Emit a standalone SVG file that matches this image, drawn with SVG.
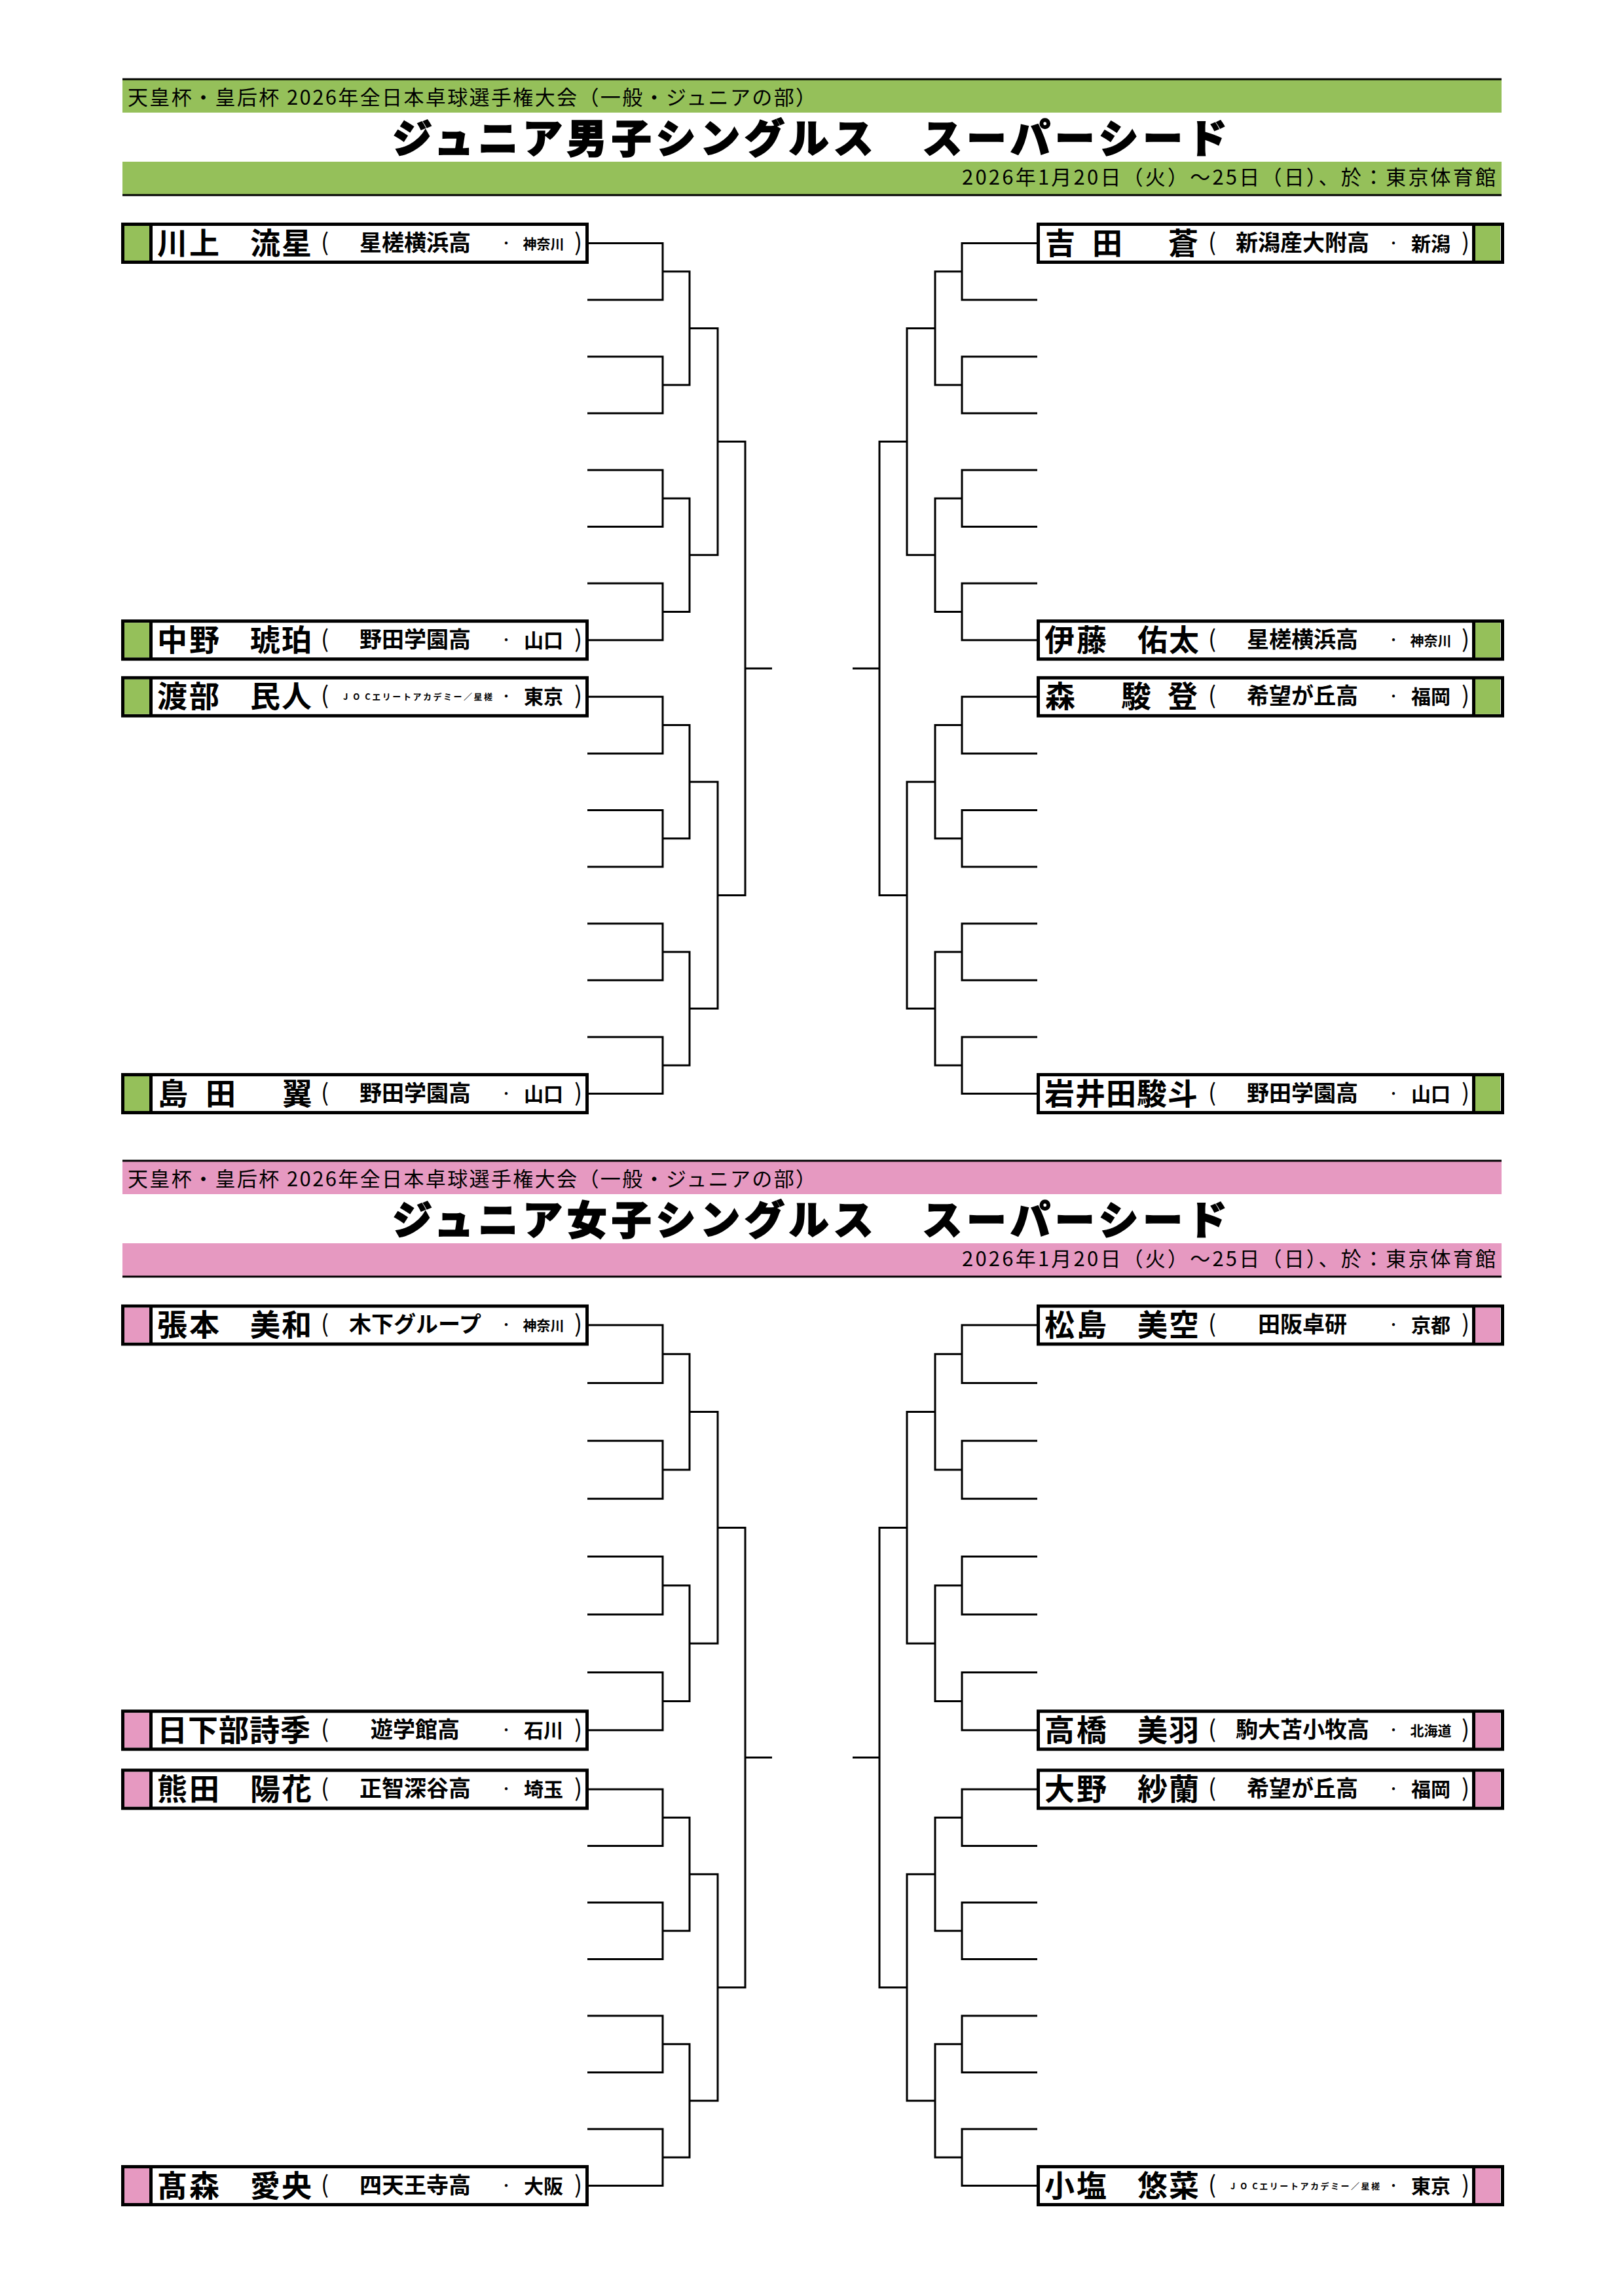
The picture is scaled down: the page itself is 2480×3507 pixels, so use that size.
<svg xmlns="http://www.w3.org/2000/svg" width="2480" height="3507" viewBox="0 0 2480 3507">
<style>
text{font-family:"Noto Sans CJK JP","Noto Sans CJK SC",sans-serif;fill:#000}
.bx{fill:#fff;stroke:#000;stroke-width:5}
.dv{stroke:#000;stroke-width:5}
.gm{fill:#95C05A}
.pk{fill:#E699C1}
.hl{stroke:#000;stroke-width:3}
.cn{fill:none;stroke:#000;stroke-width:3}
.h1{font-size:31px;font-weight:400}
.tt{font-size:61px;font-weight:900;stroke:#000;stroke-width:1.6}
.nm{font-size:46px;font-weight:700}
.sc{font-size:34px;font-weight:700;text-anchor:middle}
.jc{font-size:13px;font-weight:700;text-anchor:middle}
.dt{font-size:20px;font-weight:400;text-anchor:middle}
.p2{font-size:30px;font-weight:700;text-anchor:middle}
.p3{font-size:21px;font-weight:700;text-anchor:middle}
.pr{font-size:36px;font-weight:400;text-anchor:middle}
</style>
<rect width="2480" height="3507" fill="#fff"/>

<g id="men-header">
<rect class="gm" x="187" y="121" width="2106" height="51"/>
<rect class="gm" x="187" y="247" width="2106" height="51"/>
<line class="hl" x1="187" y1="121" x2="2293" y2="121"/>
<line class="hl" x1="187" y1="298" x2="2293" y2="298"/>
<text class="h1" x="195" y="160" textLength="1051">天皇杯・皇后杯 2026年全日本卓球選手権大会（一般・ジュニアの部）</text>
<text class="tt" x="599" y="234" textLength="1275">ジュニア男子シングルス　スーパーシード</text>
<text class="h1" x="2284" y="282" text-anchor="end" textLength="815">2026年1月20日（火）～25日（日）、於：東京体育館</text>
</g>

<g id="women-header">
<rect class="pk" x="187" y="1773" width="2106" height="51"/>
<rect class="pk" x="187" y="1899" width="2106" height="51"/>
<line class="hl" x1="187" y1="1773" x2="2293" y2="1773"/>
<line class="hl" x1="187" y1="1950" x2="2293" y2="1950"/>
<text class="h1" x="195" y="1812" textLength="1051">天皇杯・皇后杯 2026年全日本卓球選手権大会（一般・ジュニアの部）</text>
<text class="tt" x="599" y="1886" textLength="1275">ジュニア女子シングルス　スーパーシード</text>
<text class="h1" x="2284" y="1934" text-anchor="end" textLength="815">2026年1月20日（火）～25日（日）、於：東京体育館</text>
</g>

<g id="connectors">
<path class="cn" d="M897 371.5H1012V458.1H897M897 544.7H1012V631.3H897M897 717.9H1012V804.5H897M897 891.1H1012V977.7H897M897 1064.3H1012V1150.9H897M897 1237.5H1012V1324.1H897M897 1410.7H1012V1497.3H897M897 1583.9H1012V1670.5H897"/>
<path class="cn" d="M1012 414.8H1053V588H1012M1012 761.2H1053V934.4H1012M1012 1107.6H1053V1280.8H1012M1012 1454H1053V1627.2H1012"/>
<path class="cn" d="M1053 501.4H1096V847.8H1053M1053 1194.2H1096V1540.6H1053M1096 674.6H1138V1367.4H1096M1138 1021H1179"/>
<path class="cn" d="M1584 371.5H1469V458.1H1584M1584 544.7H1469V631.3H1584M1584 717.9H1469V804.5H1584M1584 891.1H1469V977.7H1584M1584 1064.3H1469V1150.9H1584M1584 1237.5H1469V1324.1H1584M1584 1410.7H1469V1497.3H1584M1584 1583.9H1469V1670.5H1584"/>
<path class="cn" d="M1469 414.8H1428V588H1469M1469 761.2H1428V934.4H1469M1469 1107.6H1428V1280.8H1469M1469 1454H1428V1627.2H1469"/>
<path class="cn" d="M1428 501.4H1385V847.8H1428M1428 1194.2H1385V1540.6H1428M1385 674.6H1343V1367.4H1385M1343 1021H1302"/>
<path class="cn" d="M897 2024H1012V2112.4H897M897 2200.8H1012V2289.2H897M897 2377.6H1012V2466H897M897 2554.4H1012V2642.8H897M897 2733H1012V2819.5H897M897 2906H1012V2992.5H897M897 3079H1012V3165.5H897M897 3252H1012V3338.5H897"/>
<path class="cn" d="M1012 2068.2H1053V2245H1012M1012 2421.8H1053V2598.6H1012M1012 2776.3H1053V2949.3H1012M1012 3122.3H1053V3295.3H1012"/>
<path class="cn" d="M1053 2156.6H1096V2510.2H1053M1053 2862.8H1096V3208.8H1053M1096 2333.4H1138V3035.8H1096M1138 2684.6H1179"/>
<path class="cn" d="M1584 2024H1469V2112.4H1584M1584 2200.8H1469V2289.2H1584M1584 2377.6H1469V2466H1584M1584 2554.4H1469V2642.8H1584M1584 2733H1469V2819.5H1584M1584 2906H1469V2992.5H1584M1584 3079H1469V3165.5H1584M1584 3252H1469V3338.5H1584"/>
<path class="cn" d="M1469 2068.2H1428V2245H1469M1469 2421.8H1428V2598.6H1469M1469 2776.3H1428V2949.3H1469M1469 3122.3H1428V3295.3H1469"/>
<path class="cn" d="M1428 2156.6H1385V2510.2H1428M1428 2862.8H1385V3208.8H1428M1385 2333.4H1343V3035.8H1385M1343 2684.6H1302"/>
</g>

<!-- Men left -->
<g id="m-kawakami" transform="translate(0,371.5)">
<rect class="bx" x="187.5" y="-29" width="709" height="58"/><rect class="gm" x="190" y="-26.5" width="38" height="53"/><line class="dv" x1="230.5" y1="-29" x2="230.5" y2="29"/>
<text class="nm" x="240 289 382 430" y="16">川上流星</text><text class="pr" x="496" y="11">(</text><text class="sc" x="634" y="11">星槎横浜高</text><text class="dt" x="773" y="7">・</text><text class="p3" x="830" y="8">神奈川</text><text class="pr" x="883" y="11">)</text>
</g>
<g id="m-nakano" transform="translate(0,977.7)">
<rect class="bx" x="187.5" y="-29" width="709" height="58"/><rect class="gm" x="190" y="-26.5" width="38" height="53"/><line class="dv" x1="230.5" y1="-29" x2="230.5" y2="29"/>
<text class="nm" x="240 289 382 430" y="16">中野琥珀</text><text class="pr" x="496" y="11">(</text><text class="sc" x="634" y="11">野田学園高</text><text class="dt" x="773" y="7">・</text><text class="p2" x="830" y="11">山口</text><text class="pr" x="883" y="11">)</text>
</g>
<g id="m-watanabe" transform="translate(0,1064.3)">
<rect class="bx" x="187.5" y="-29" width="709" height="58"/><rect class="gm" x="190" y="-26.5" width="38" height="53"/><line class="dv" x1="230.5" y1="-29" x2="230.5" y2="29"/>
<text class="nm" x="240 289 382 430" y="16">渡部民人</text><text class="pr" x="496" y="11">(</text><text class="jc" x="638" y="5" textLength="228">J O Cエリートアカデミー／星槎</text><text class="dt" x="773" y="7">・</text><text class="p2" x="830" y="11">東京</text><text class="pr" x="883" y="11">)</text>
</g>
<g id="m-shimada" transform="translate(0,1670.5)">
<rect class="bx" x="187.5" y="-29" width="709" height="58"/><rect class="gm" x="190" y="-26.5" width="38" height="53"/><line class="dv" x1="230.5" y1="-29" x2="230.5" y2="29"/>
<text class="nm" x="241 314 431" y="16">島田翼</text><text class="pr" x="496" y="11">(</text><text class="sc" x="634" y="11">野田学園高</text><text class="dt" x="773" y="7">・</text><text class="p2" x="830" y="11">山口</text><text class="pr" x="883" y="11">)</text>
</g>

<!-- Men right -->
<g id="m-yoshida" transform="translate(0,371.5)">
<rect class="bx" x="1585.5" y="-29" width="709" height="58"/><rect class="gm" x="2253" y="-26.5" width="38" height="53"/><line class="dv" x1="2250.5" y1="-29" x2="2250.5" y2="29"/>
<text class="nm" x="1596 1668 1784" y="16">吉田蒼</text><text class="pr" x="1851" y="11">(</text><text class="sc" x="1989" y="11">新潟産大附高</text><text class="dt" x="2128" y="7">・</text><text class="p2" x="2185" y="11">新潟</text><text class="pr" x="2238" y="11">)</text>
</g>
<g id="m-ito" transform="translate(0,977.7)">
<rect class="bx" x="1585.5" y="-29" width="709" height="58"/><rect class="gm" x="2253" y="-26.5" width="38" height="53"/><line class="dv" x1="2250.5" y1="-29" x2="2250.5" y2="29"/>
<text class="nm" x="1595 1644 1737 1785" y="16">伊藤佑太</text><text class="pr" x="1851" y="11">(</text><text class="sc" x="1989" y="11">星槎横浜高</text><text class="dt" x="2128" y="7">・</text><text class="p3" x="2185" y="8">神奈川</text><text class="pr" x="2238" y="11">)</text>
</g>
<g id="m-mori" transform="translate(0,1064.3)">
<rect class="bx" x="1585.5" y="-29" width="709" height="58"/><rect class="gm" x="2253" y="-26.5" width="38" height="53"/><line class="dv" x1="2250.5" y1="-29" x2="2250.5" y2="29"/>
<text class="nm" x="1596 1712 1783" y="16">森駿登</text><text class="pr" x="1851" y="11">(</text><text class="sc" x="1989" y="11">希望が丘高</text><text class="dt" x="2128" y="7">・</text><text class="p2" x="2185" y="11">福岡</text><text class="pr" x="2238" y="11">)</text>
</g>
<g id="m-iwaida" transform="translate(0,1670.5)">
<rect class="bx" x="1585.5" y="-29" width="709" height="58"/><rect class="gm" x="2253" y="-26.5" width="38" height="53"/><line class="dv" x1="2250.5" y1="-29" x2="2250.5" y2="29"/>
<text class="nm" x="1595 1642 1689 1736 1783" y="16">岩井田駿斗</text><text class="pr" x="1851" y="11">(</text><text class="sc" x="1989" y="11">野田学園高</text><text class="dt" x="2128" y="7">・</text><text class="p2" x="2185" y="11">山口</text><text class="pr" x="2238" y="11">)</text>
</g>

<!-- Women left -->
<g id="w-harimoto" transform="translate(0,2024)">
<rect class="bx" x="187.5" y="-29" width="709" height="58"/><rect class="pk" x="190" y="-26.5" width="38" height="53"/><line class="dv" x1="230.5" y1="-29" x2="230.5" y2="29"/>
<text class="nm" x="240 289 382 430" y="16">張本美和</text><text class="pr" x="496" y="11">(</text><text class="sc" x="634" y="11">木下グループ</text><text class="dt" x="773" y="7">・</text><text class="p3" x="830" y="8">神奈川</text><text class="pr" x="883" y="11">)</text>
</g>
<g id="w-kusakabe" transform="translate(0,2642.8)">
<rect class="bx" x="187.5" y="-29" width="709" height="58"/><rect class="pk" x="190" y="-26.5" width="38" height="53"/><line class="dv" x1="230.5" y1="-29" x2="230.5" y2="29"/>
<text class="nm" x="240 287 334 381 428" y="16">日下部詩季</text><text class="pr" x="496" y="11">(</text><text class="sc" x="634" y="11">遊学館高</text><text class="dt" x="773" y="7">・</text><text class="p2" x="830" y="11">石川</text><text class="pr" x="883" y="11">)</text>
</g>
<g id="w-kumada" transform="translate(0,2733)">
<rect class="bx" x="187.5" y="-29" width="709" height="58"/><rect class="pk" x="190" y="-26.5" width="38" height="53"/><line class="dv" x1="230.5" y1="-29" x2="230.5" y2="29"/>
<text class="nm" x="240 289 382 430" y="16">熊田陽花</text><text class="pr" x="496" y="11">(</text><text class="sc" x="634" y="11">正智深谷高</text><text class="dt" x="773" y="7">・</text><text class="p2" x="830" y="11">埼玉</text><text class="pr" x="883" y="11">)</text>
</g>
<g id="w-takamori" transform="translate(0,3338.5)">
<rect class="bx" x="187.5" y="-29" width="709" height="58"/><rect class="pk" x="190" y="-26.5" width="38" height="53"/><line class="dv" x1="230.5" y1="-29" x2="230.5" y2="29"/>
<text class="nm" x="240 289 382 430" y="16">髙森愛央</text><text class="pr" x="496" y="11">(</text><text class="sc" x="634" y="11">四天王寺高</text><text class="dt" x="773" y="7">・</text><text class="p2" x="830" y="11">大阪</text><text class="pr" x="883" y="11">)</text>
</g>

<!-- Women right -->
<g id="w-matsushima" transform="translate(0,2024)">
<rect class="bx" x="1585.5" y="-29" width="709" height="58"/><rect class="pk" x="2253" y="-26.5" width="38" height="53"/><line class="dv" x1="2250.5" y1="-29" x2="2250.5" y2="29"/>
<text class="nm" x="1595 1644 1737 1785" y="16">松島美空</text><text class="pr" x="1851" y="11">(</text><text class="sc" x="1989" y="11">田阪卓研</text><text class="dt" x="2128" y="7">・</text><text class="p2" x="2185" y="11">京都</text><text class="pr" x="2238" y="11">)</text>
</g>
<g id="w-takahashi" transform="translate(0,2642.8)">
<rect class="bx" x="1585.5" y="-29" width="709" height="58"/><rect class="pk" x="2253" y="-26.5" width="38" height="53"/><line class="dv" x1="2250.5" y1="-29" x2="2250.5" y2="29"/>
<text class="nm" x="1595 1644 1737 1785" y="16">高橋美羽</text><text class="pr" x="1851" y="11">(</text><text class="sc" x="1989" y="11">駒大苫小牧高</text><text class="dt" x="2128" y="7">・</text><text class="p3" x="2185" y="8">北海道</text><text class="pr" x="2238" y="11">)</text>
</g>
<g id="w-ono" transform="translate(0,2733)">
<rect class="bx" x="1585.5" y="-29" width="709" height="58"/><rect class="pk" x="2253" y="-26.5" width="38" height="53"/><line class="dv" x1="2250.5" y1="-29" x2="2250.5" y2="29"/>
<text class="nm" x="1595 1644 1737 1785" y="16">大野紗蘭</text><text class="pr" x="1851" y="11">(</text><text class="sc" x="1989" y="11">希望が丘高</text><text class="dt" x="2128" y="7">・</text><text class="p2" x="2185" y="11">福岡</text><text class="pr" x="2238" y="11">)</text>
</g>
<g id="w-oshio" transform="translate(0,3338.5)">
<rect class="bx" x="1585.5" y="-29" width="709" height="58"/><rect class="pk" x="2253" y="-26.5" width="38" height="53"/><line class="dv" x1="2250.5" y1="-29" x2="2250.5" y2="29"/>
<text class="nm" x="1595 1644 1737 1785" y="16">小塩悠菜</text><text class="pr" x="1851" y="11">(</text><text class="jc" x="1993" y="5" textLength="228">J O Cエリートアカデミー／星槎</text><text class="dt" x="2128" y="7">・</text><text class="p2" x="2185" y="11">東京</text><text class="pr" x="2238" y="11">)</text>
</g>
</svg>
